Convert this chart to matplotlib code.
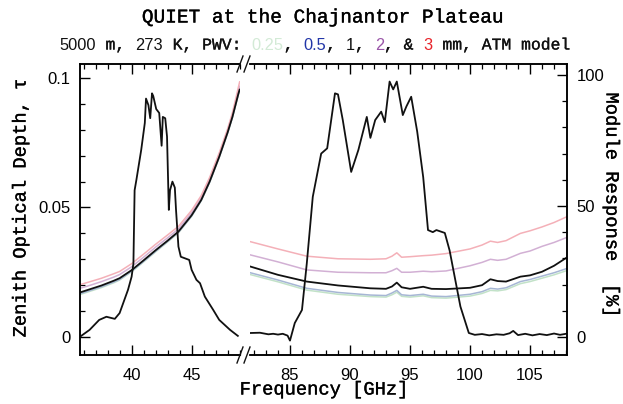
import matplotlib
matplotlib.use("Agg")
import matplotlib.pyplot as plt
import matplotlib.patheffects as pe
from matplotlib.ticker import MultipleLocator
from matplotlib.offsetbox import TextArea, HPacker, AnchoredOffsetbox

MONO = "Liberation Mono"
SANS = "Liberation Sans"

# --- Q band (left panel) ---
q_freq = [35.7, 36.5, 37.5, 38.5, 39.0, 40.0, 41.0, 42.0, 43.0, 43.9,
          45.0, 45.8, 46.5, 47.3, 48.0, 48.4, 48.9, 49.0]
q_tau_black = [0.0172, 0.0184, 0.0199, 0.0217, 0.0227, 0.0258, 0.0296, 0.0335, 0.0372, 0.0407,
               0.0470, 0.0529, 0.0600, 0.0696, 0.0790, 0.0850, 0.0940, 0.0955]
q_tau_red = [0.0202, 0.0213, 0.0227, 0.0244, 0.0253, 0.0283, 0.0320, 0.0358, 0.0394, 0.0427,
             0.0489, 0.0546, 0.0616, 0.0711, 0.0804, 0.0866, 0.0965, 0.0985]
q_tau_purple = [0.0188, 0.0199, 0.0214, 0.0231, 0.0241, 0.0271, 0.0308, 0.0347, 0.0383, 0.0417,
                0.0480, 0.0538, 0.0608, 0.0703, 0.0797, 0.0858, 0.0950, 0.0968]
q_tau_blue = [0.0167, 0.0179, 0.0194, 0.0212, 0.0222, 0.0254, 0.0292, 0.0331, 0.0369, 0.0404,
              0.0467, 0.0527, 0.0598, 0.0694, 0.0788, 0.0848, 0.0938, 0.0952]
q_tau_green = [0.0164, 0.0176, 0.0191, 0.0209, 0.0220, 0.0252, 0.0290, 0.0329, 0.0367, 0.0402,
               0.0466, 0.0526, 0.0597, 0.0693, 0.0787, 0.0847, 0.0937, 0.0951]

q_resp_freq = [35.8, 36.5, 37.3, 37.9, 38.6, 39.0, 39.7, 40.0, 40.15, 40.25, 40.4,
               40.8, 41.1, 41.2, 41.4, 41.55, 41.7, 41.8, 42.05, 42.3, 42.5,
               42.6, 42.8, 42.95, 43.1, 43.2, 43.4, 43.6, 43.7, 43.9, 44.1,
               44.8, 45.0, 45.4, 45.7, 46.1, 46.8, 47.3, 48.2, 48.85]
q_resp = [0.4, 2.7, 6.5, 7.7, 6.9, 9.1, 18.0, 23.0, 28.0, 56.0, 60.0,
          71.4, 81.7, 91.0, 88.5, 83.5, 93.0, 92.0, 87.0, 85.5, 73.0,
          84.0, 83.5, 76.5, 48.5, 56.0, 59.3, 57.0, 48.5, 34.5, 30.6,
          29.4, 25.6, 21.8, 20.5, 15.4, 10.3, 6.5, 2.7, 0.4]

# --- W band (right panel) ---
w_freq = [81.7, 84.0, 86.4, 89.0, 91.7, 93.0, 93.5, 93.9, 94.3, 95.0, 96.1, 96.8,
          98.0, 100.0, 101.0, 101.7, 102.3, 103.0, 104.2, 105.0, 106.0, 107.0, 108.1]
w_tau_black = [0.0272, 0.0240, 0.0214, 0.0199, 0.0188, 0.0186, 0.0195, 0.0210, 0.0192, 0.0186, 0.0194, 0.0186,
               0.0185, 0.0190, 0.0200, 0.0223, 0.0216, 0.0214, 0.0233, 0.0238, 0.0252, 0.0275, 0.0308]
w_tau_red = [0.0368, 0.0340, 0.0312, 0.0302, 0.0300, 0.0302, 0.0312, 0.0325, 0.0308, 0.0310, 0.0314, 0.0316,
             0.0322, 0.0340, 0.0355, 0.0370, 0.0365, 0.0372, 0.0400, 0.0410, 0.0425, 0.0442, 0.0465]
w_tau_purple = [0.0317, 0.0290, 0.0259, 0.0250, 0.0248, 0.0248, 0.0256, 0.0265, 0.0250, 0.0250, 0.0254, 0.0252,
                0.0255, 0.0275, 0.0288, 0.0300, 0.0296, 0.0300, 0.0323, 0.0332, 0.0350, 0.0365, 0.0385]
w_tau_blue = [0.0248, 0.0220, 0.0188, 0.0172, 0.0162, 0.0160, 0.0170, 0.0180, 0.0163, 0.0160, 0.0165, 0.0158,
              0.0156, 0.0165, 0.0175, 0.0188, 0.0185, 0.0190, 0.0214, 0.0222, 0.0235, 0.0248, 0.0265]
w_tau_green = [0.0241, 0.0213, 0.0181, 0.0165, 0.0156, 0.0154, 0.0163, 0.0173, 0.0157, 0.0154, 0.0159, 0.0152,
               0.0150, 0.0158, 0.0168, 0.0180, 0.0178, 0.0183, 0.0206, 0.0214, 0.0227, 0.0240, 0.0257]

w_resp_freq = [81.7, 82.5, 83.2, 83.6, 84.0, 84.4, 84.8, 85.0, 85.4, 86.0, 86.4, 86.9,
               87.6, 88.1, 88.75, 89.0, 89.4, 90.1, 90.7, 91.4, 91.7, 92.1, 92.6, 92.9,
               93.3, 93.6, 93.9, 94.4, 94.7, 95.1, 95.6, 96.1, 96.5, 96.9, 97.2, 97.9,
               98.3, 99.2, 99.9, 100.4, 101.0, 101.6, 102.2, 102.8, 103.3, 103.6, 104.0,
               104.6, 105.2, 105.8, 106.4, 107.0, 107.5, 108.0]
w_resp = [1.5, 1.6, 1.0, 1.2, 0.9, 1.2, 0.5, -1.4, 5.3, 10.3, 28.0, 53.5,
          70.0, 72.0, 93.0, 92.6, 82.8, 63.0, 71.4, 84.0, 76.0, 82.8, 86.0, 82.0,
          97.5, 94.5, 97.5, 84.7, 88.0, 91.7, 78.4, 61.0, 40.8, 40.0, 40.8, 39.7,
          33.0, 11.6, 1.5, 0.8, 1.1, 0.6, 1.0, 0.8, 1.4, 2.3, 0.7,
          1.2, 0.6, 1.1, 0.7, 1.3, 0.8, 1.2]

pwv_colors = {"green": "#c2e2c8", "blue": "#a6b6d4", "black": "#111111",
              "purple": "#d2b0d4", "red": "#f4b0b8"}

W, H = 623, 404
fig = plt.figure(figsize=(W / 100, H / 100), dpi=100)

def fx(px):
    return px / W

def fy(py):
    return 1 - py / H

# light stroke so the typewriter text is a bit heavier, like the scan
heavy = [pe.withStroke(linewidth=0.25, foreground="#111111")]

ax_top, ax_bot = 64, 355
ax1 = fig.add_axes([fx(80), fy(ax_bot), fx(240) - fx(80), fy(ax_top) - fy(ax_bot)])
ax2 = fig.add_axes([fx(250), fy(ax_bot), fx(567) - fx(250), fy(ax_top) - fy(ax_bot)])
ax1r = ax1.twinx()
ax2r = ax2.twinx()

tau_lim = (-0.00695, 0.1054)
resp_lim = (-6.9, 104.2)

for ax, fr, series in [
    (ax1, q_freq, [("green", q_tau_green), ("blue", q_tau_blue), ("purple", q_tau_purple),
                   ("red", q_tau_red), ("black", q_tau_black)]),
    (ax2, w_freq, [("green", w_tau_green), ("blue", w_tau_blue), ("purple", w_tau_purple),
                   ("red", w_tau_red), ("black", w_tau_black)]),
]:
    for name, vals in series:
        lw = 1.3 if name == "black" else 1.1
        ax.plot(fr, vals, color=pwv_colors[name], lw=lw, zorder=3 if name == "black" else 2)
    ax.set_ylim(*tau_lim)

ax1r.plot(q_resp_freq, q_resp, color="#111111", lw=1.3)
ax2r.plot(w_resp_freq, w_resp, color="#111111", lw=1.3)
for ax in (ax1r, ax2r):
    ax.set_ylim(*resp_lim)

ax1.set_xlim(35.7, 49.03)
ax1r.set_xlim(35.7, 49.03)
ax2.set_xlim(81.67, 108.08)
ax2r.set_xlim(81.67, 108.08)

# spines and ticks
for ax in (ax1, ax2, ax1r, ax2r):
    for s in ax.spines.values():
        s.set_linewidth(1.1)
ax1.spines["right"].set_visible(False)
ax1r.spines["right"].set_visible(False)
ax2.spines["left"].set_visible(False)
ax2r.spines["left"].set_visible(False)

for ax in (ax1, ax2):
    ax.xaxis.set_major_locator(MultipleLocator(5))
    ax.xaxis.set_minor_locator(MultipleLocator(1))
    ax.tick_params(axis="x", which="both", direction="in", top=True, bottom=True)
    ax.tick_params(axis="x", which="major", length=7, width=1, labelsize=12, pad=9)
    ax.tick_params(axis="x", which="minor", length=3.5, width=0.9)

ax1.set_yticks([0, 0.05, 0.1])
ax1.set_yticklabels(["0", "0.05", "0.1"], family=SANS)
ax1.yaxis.set_minor_locator(MultipleLocator(0.01))
ax1.tick_params(axis="y", which="both", direction="in", left=True, right=False)
ax1.tick_params(axis="y", which="major", length=7, width=1, labelsize=12, pad=7)
ax1.tick_params(axis="y", which="minor", length=3.5, width=0.9)
ax1r.tick_params(axis="y", which="both", right=False, labelright=False)
ax1r.tick_params(axis="x", which="both", bottom=False, top=False)

ax2.tick_params(axis="y", which="both", left=False, right=False, labelleft=False)
ax2r.set_yticks([0, 50, 100])
ax2r.set_yticklabels(["0", "50", "100"], family=SANS)
ax2r.yaxis.set_minor_locator(MultipleLocator(10))
ax2r.tick_params(axis="y", which="both", direction="in", right=True)
ax2r.tick_params(axis="y", which="major", length=7, width=1, labelsize=12, pad=7)
ax2r.tick_params(axis="y", which="minor", length=3.5, width=0.9)

ax1.set_xticks([40, 45])
ax1.set_xticklabels(["40", "45"], family=SANS)
ax2.set_xticks([85, 90, 95, 100, 105])
ax2.set_xticklabels(["85", "90", "95", "100", "105"], family=SANS)

# break marks
for py in (ax_top, ax_bot):
    for x0 in (237, 244):
        fig.add_artist(plt.Line2D([fx(x0), fx(x0 + 6)], [fy(py + 8), fy(py - 8)],
                                  color="#111111", lw=1.0))

# labels
fig.text(fx(21), fy(208), "Zenith Optical Depth, \u03c4", rotation=90,
         ha="center", va="center", family=MONO, size=13.5, path_effects=heavy)
fig.text(fx(611), fy(205), "Module Response  [%]", rotation=270,
         ha="center", va="center", family=MONO, size=13.5, path_effects=heavy)
fig.text(fx(324), fy(390), "Frequency [GHz]", ha="center", va="center", family=MONO,
         size=13.5, path_effects=heavy)
fig.text(fx(324), fy(18), "QUIET at the Chajnantor Plateau", ha="center", va="center",
         family=MONO, size=14, path_effects=heavy)

sub_parts = [("5000", SANS, "#111111"), (" m, ", MONO, "#111111"), ("273", SANS, "#111111"),
             (" K, PWV: ", MONO, "#111111"), ("0.25", SANS, "#d3ead6"), (", ", MONO, "#111111"),
             ("0.5", SANS, "#2236a8"), (", ", MONO, "#111111"), ("1", SANS, "#111111"),
             (", ", MONO, "#111111"), ("2", SANS, "#9a55a8"), (", & ", MONO, "#111111"),
             ("3", SANS, "#e8232a"), (" mm, ATM model", MONO, "#111111")]
boxes = []
for t, f, c in sub_parts:
    props = dict(family=f, color=c, size=11.8)
    if f == MONO:
        props["path_effects"] = [pe.withStroke(linewidth=0.2, foreground=c)]
    boxes.append(TextArea(t, textprops=props))
pack = HPacker(children=boxes, align="baseline", pad=0, sep=0)
anch = AnchoredOffsetbox(loc="center", child=pack, bbox_to_anchor=(fx(315), fy(45)),
                         bbox_transform=fig.transFigure, frameon=False, pad=0, borderpad=0)
fig.add_artist(anch)

fig.savefig("out.png", dpi=100)
